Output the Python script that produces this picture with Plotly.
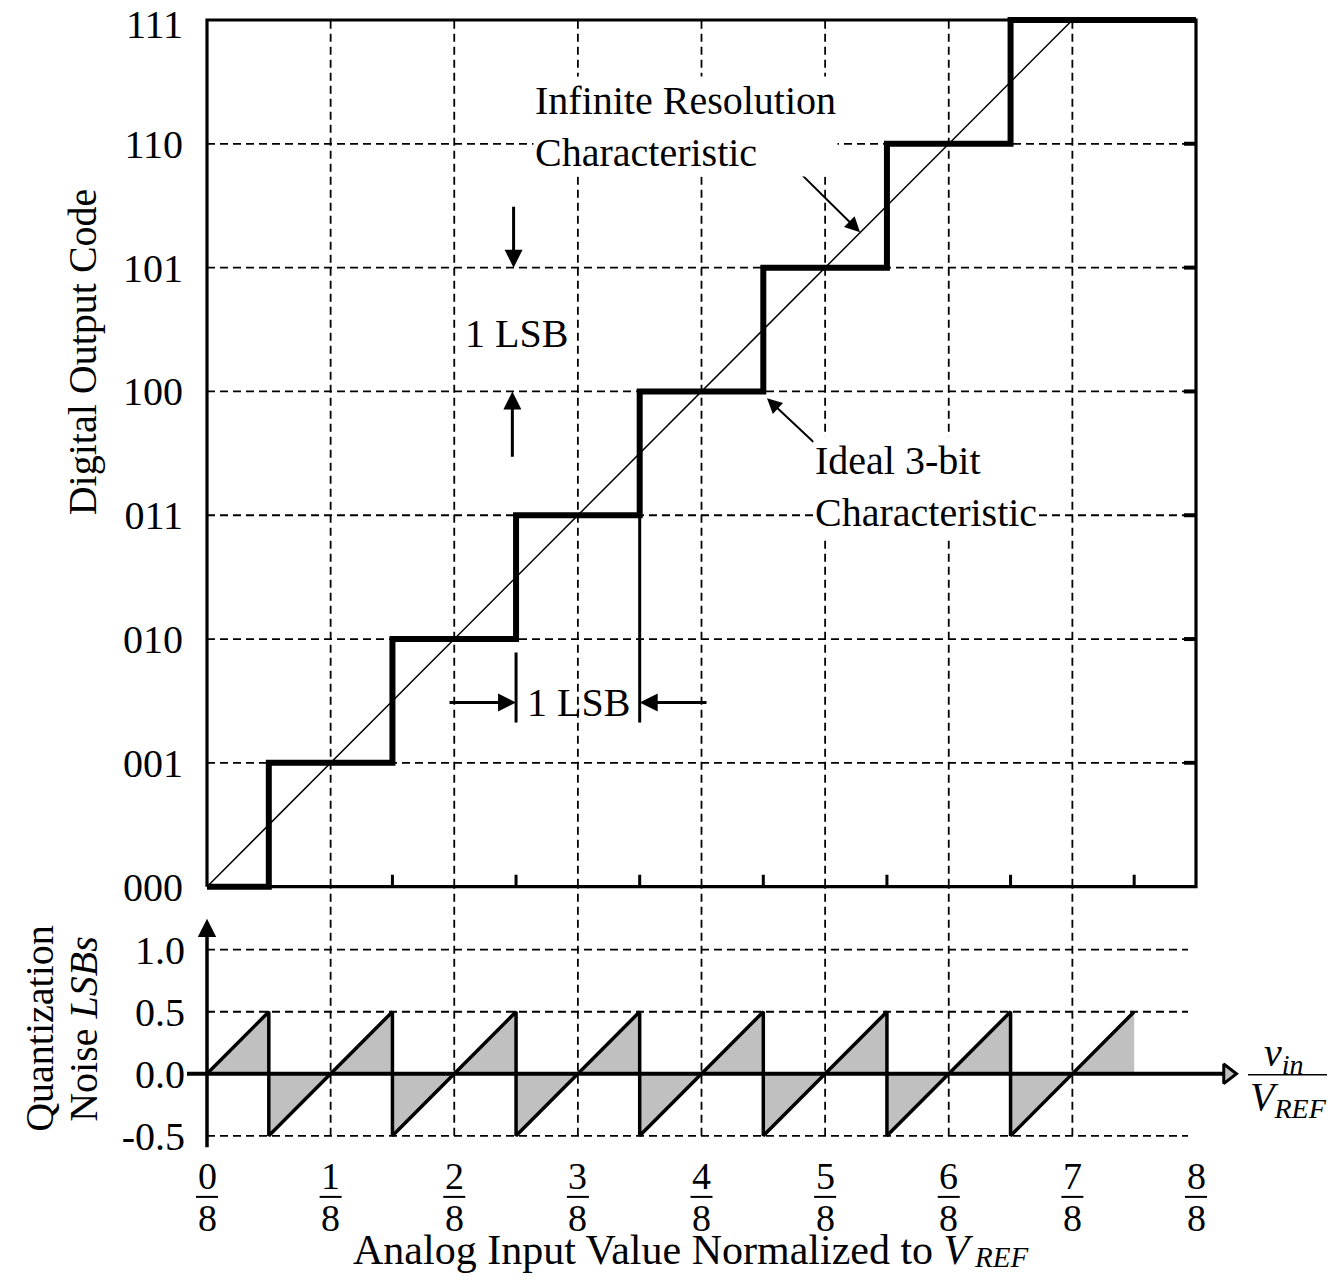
import plotly.graph_objects as go

W, H = 1344, 1282
FONT = "Liberation Serif"

# ---------------- data ----------------
code_levels = [0, 1, 2, 3, 4, 5, 6, 7]
code_labels = ["000", "001", "010", "011", "100", "101", "110", "111"]
input_ticks = [0, 1, 2, 3, 4, 5, 6, 7, 8]          # analog input in units of VREF/8
input_numerators = ["0", "1", "2", "3", "4", "5", "6", "7", "8"]
input_denominator = "8"
half_lsb_ticks = [1.5, 2.5, 3.5, 4.5, 5.5, 6.5, 7.5]
grid_inputs = [1, 2, 3, 4, 5, 6, 7]
grid_codes = [1, 2, 3, 4, 5, 6]

stair_x = [0, 0.5, 1.5, 2.5, 3.5, 4.5, 5.5, 6.5, 8]
stair_code = [0, 1, 2, 3, 4, 5, 6, 7, 7]
ideal_x = [0, 7]
ideal_code = [0, 7]

noise_x = [0, 0.5, 0.5, 1.5, 1.5, 2.5, 2.5, 3.5, 3.5, 4.5, 4.5, 5.5, 5.5, 6.5, 6.5, 7.5]
noise_lsb = [0, 0.5, -0.5, 0.5, -0.5, 0.5, -0.5, 0.5, -0.5, 0.5, -0.5, 0.5, -0.5, 0.5, -0.5, 0.5]
noise_tick_vals = [-0.5, 0.0, 0.5, 1.0]
noise_tick_text = ["-0.5", "0.0", "0.5", "1.0"]
noise_grid = [-0.5, 0.5, 1.0]

# ---------------- pixel <-> data mapping (layout only) ----------------
X_ORIGIN, X_UNIT = 207.0, 123.625
Y_ORIGIN, Y_UNIT = 886.0, 123.714
N_ORIGIN, N_UNIT = 1073.0, 124.0

# the captured page is ~8px taller than the figure, so it is squeezed vertically
SQUEEZE = 1282.0 / 1290.0


def sy(py):
    return py / SQUEEZE


def dx(px):
    return (px - X_ORIGIN) / X_UNIT


def dy(py):
    return (Y_ORIGIN - py) / Y_UNIT


def dn(py):
    return (N_ORIGIN - py) / N_UNIT


def pfx(px):
    return px / W


def pfy(py):
    return 1 - sy(py) / H


XD = (150, 1290)
YD = (8, 902)
ND = (878, 1165)

DASH = "8px,5px"
BLK = "black"

fig = go.Figure()


def add_lines(xs, ys, yaxis="y", width=2, dash=None, color=BLK):
    fig.add_trace(go.Scatter(x=xs, y=ys, mode="lines", yaxis=yaxis, hoverinfo="skip",
                             line=dict(color=color, width=width, dash=dash),
                             showlegend=False))


# ---- main panel grid ----
gx, gy = [], []
for g in grid_inputs:
    gx += [g, g, None]
    gy += [0, 7, None]
for c in grid_codes:
    gx += [0, 8, None]
    gy += [c, c, None]
add_lines(gx, gy, width=1.8, dash=DASH)

# ---- noise panel grid ----
nx, ny = [], []
for g in grid_inputs:
    nx += [g, g, None]
    ny += [-0.5, dn(886), None]
for n in noise_grid:
    nx += [0, dx(1188), None]
    ny += [n, n, None]
add_lines(nx, ny, yaxis="y2", width=1.8, dash=DASH)

# ---- ticks: right side (inside) and bottom half-LSB ----
tx, ty = [], []
for c in grid_codes:
    tx += [8, 8 - 12 / X_UNIT, None]
    ty += [c, c, None]
add_lines(tx, ty, width=4)
bx, by = [], []
for t in half_lsb_ticks:
    bx += [t, t, None]
    by += [0, 12 / Y_UNIT, None]
add_lines(bx, by, width=3)

# ---- frame ----
add_lines([0, 8, 8, 0, 0], [0, 0, 7, 7, 0], width=3.2)

# ---- infinite resolution line ----
add_lines(ideal_x, ideal_code, width=1.5)

# ---- ideal 3-bit staircase ----
fig.add_trace(go.Scatter(x=stair_x, y=stair_code, mode="lines", line_shape="hv",
                         line=dict(color=BLK, width=6), hoverinfo="skip", showlegend=False))

# ---- 1 LSB bracket bars ----
add_lines([2.5, 2.5, None, 3.5, 3.5], [dy(652), dy(722), None, 3, dy(722)], width=3)

# ---- quantization noise ----
fig.add_trace(go.Scatter(x=noise_x, y=noise_lsb, yaxis="y2", mode="lines", fill="tozeroy",
                         fillcolor="#c0c0c0", line=dict(color=BLK, width=3.5),
                         hoverinfo="skip", showlegend=False))
# noise horizontal axis with arrow
add_lines([dx(187), dx(1224)], [0, 0], yaxis="y2", width=4)
fig.add_trace(go.Scatter(x=[dx(1228)], y=[0], yaxis="y2", mode="markers", hoverinfo="skip",
                         marker=dict(symbol="triangle-right", size=17, color="#c0c0c0",
                                     line=dict(color=BLK, width=3)), showlegend=False))

annotations = []


def arrow(x, y, ax, ay, yref="y", width=3, size=1.2):
    annotations.append(dict(x=x, y=y, ax=ax, ay=ay, xref="x", yref=yref, axref="x", ayref=yref,
                            text="", showarrow=True, arrowhead=2, arrowsize=size,
                            arrowwidth=width, arrowcolor=BLK))


def label(text, x, y, size=40, xanchor="center", yanchor="middle", angle=0, align="center",
          bg=None, yfrac=None):
    d = dict(x=pfx(x), y=pfy(y) if yfrac is None else yfrac, xref="paper", yref="paper",
             text=text, showarrow=False, xanchor=xanchor, yanchor=yanchor,
             textangle=angle, align=align,
             font=dict(family=FONT, size=size, color=BLK))
    if bg:
        d["bgcolor"] = bg
    annotations.append(d)


# noise vertical axis arrow
arrow(0, dn(918), 0, dn(1148), yref="y2", width=3.5, size=1.05)

# 1 LSB vertical arrows
arrow(2.48, 5.0, 2.48, dy(205))
arrow(2.47, 4.0, 2.47, dy(458))
# 1 LSB horizontal arrows
arrow(2.5, dy(702), dx(448), dy(702))
arrow(3.5, dy(702), dx(708), dy(702))
# characteristic pointers
arrow(dx(860), dy(232), dx(785), dy(158), width=2, size=1.5)
arrow(dx(767), dy(398), dx(815), dy(443), width=2, size=1.5)

label("1 LSB", 516, 333)
label("1 LSB", 578, 702)
label("Infinite Resolution<br>Characteristic", 533, 126, xanchor="left", align="left", bg="white")
label("Ideal 3-bit<br>Characteristic", 813, 486, xanchor="left", align="left", bg="white")

label("Digital Output Code", 82, 352, angle=-90)
label("Quantization", 40, 1028, angle=-90)
label("Noise <i>LSBs</i>", 84, 1028, angle=-90)

# top code label kept inside the page top edge
label(code_labels[-1], 185, 0, xanchor="right", yanchor="top", yfrac=1.0)
# bottom title kept inside the page bottom edge (subscript as its own small text)
label("Analog Input Value Normalized to <i>V</i>", 351, 0, size=42, xanchor="left",
      yanchor="bottom", yfrac=0.0)
label("<i>REF</i>", 972, 0, size=29, xanchor="left", yanchor="bottom", yfrac=0.0)
label("<i>v</i><sub><i>in</i></sub>", 1284, 1054)
label("<i>V</i><sub><i>REF</i></sub>", 1288, 1098)

shapes = [dict(type="line", xref="paper", yref="paper", x0=pfx(1248), x1=pfx(1327),
               y0=pfy(1074), y1=pfy(1074), line=dict(color=BLK, width=1.5))]

for t, num in zip(input_ticks, input_numerators):
    annotations.append(dict(x=t, y=pfy(1175), xref="x", yref="paper", text=num, showarrow=False,
                            xanchor="center", yanchor="middle",
                            font=dict(family=FONT, size=38, color=BLK)))
    annotations.append(dict(x=t, y=pfy(1217), xref="x", yref="paper", text=input_denominator,
                            showarrow=False, xanchor="center", yanchor="middle",
                            font=dict(family=FONT, size=38, color=BLK)))
    shapes.append(dict(type="line", xref="x", yref="paper", x0=t - 11 / X_UNIT, x1=t + 11 / X_UNIT,
                       y0=pfy(1196), y1=pfy(1196), line=dict(color=BLK, width=2)))

fig.update_layout(
    width=W, height=H,
    margin=dict(l=0, r=0, t=0, b=0),
    paper_bgcolor="white", plot_bgcolor="rgba(0,0,0,0)",
    showlegend=False,
    xaxis=dict(domain=[pfx(XD[0]), pfx(XD[1])], range=[dx(XD[0]), dx(XD[1])], visible=False,
               fixedrange=True),
    yaxis=dict(domain=[pfy(YD[1]), pfy(YD[0])], range=[dy(YD[1]), dy(YD[0])],
               anchor="free", position=pfx(207), tickmode="array", tickvals=code_levels[:-1],
               ticktext=code_labels[:-1], showgrid=False, zeroline=False, showline=False, ticks="",
               ticklabelstandoff=24, ticklabeloverflow="allow", fixedrange=True,
               tickfont=dict(family=FONT, size=40, color=BLK)),
    yaxis2=dict(domain=[pfy(ND[1]), pfy(ND[0])], range=[dn(ND[1]), dn(ND[0])],
                anchor="free", position=pfx(207), tickmode="array", tickvals=noise_tick_vals,
                ticktext=noise_tick_text, showgrid=False, zeroline=False, showline=False,
                ticks="", ticklabelstandoff=22, ticklabeloverflow="allow", fixedrange=True,
                tickfont=dict(family=FONT, size=40, color=BLK)),
    annotations=annotations,
    shapes=shapes,
)

fig.write_html(
    "out.html",
    config={"displayModeBar": False},
    post_script="document.body.style.margin='0';document.body.style.overflow='hidden';",
)
